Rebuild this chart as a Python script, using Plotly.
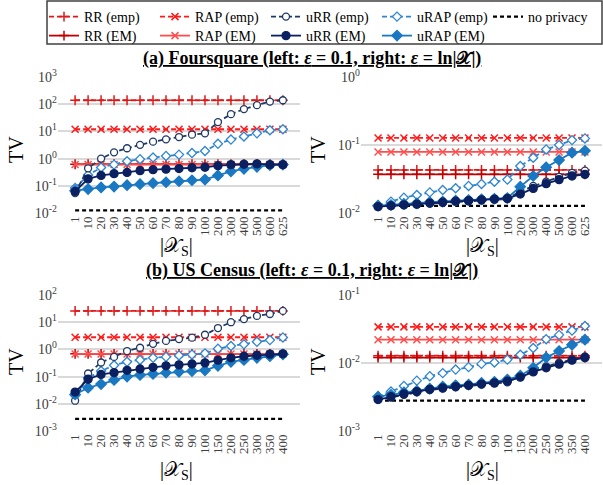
import plotly.graph_objects as go
from plotly.subplots import make_subplots

# ---------------- data ----------------
fs_cats = ["1", "10", "20", "30", "40", "50", "60", "70", "80", "90", "100",
           "200", "300", "400", "500", "600", "625"]
us_cats = ["1", "10", "20", "30", "40", "50", "60", "70", "80", "90", "100",
           "150", "200", "250", "300", "350", "400"]

series_names = ["RR (emp)", "RAP (emp)", "uRR (emp)", "uRAP (emp)", "no privacy",
                "RR (EM)", "RAP (EM)", "uRR (EM)", "uRAP (EM)"]

# (a) Foursquare, left: eps = 0.1
fsl_rr_emp = [140, 140, 140, 140, 140, 140, 140, 140, 140, 140, 140, 140, 140, 140, 140, 140, 140]
fsl_rap_emp = [12, 12, 12, 12, 12, 12, 12, 12, 12, 12, 12, 12, 12, 12, 12, 12, 12]
fsl_urr_emp = [0.054, 0.44, 1.0, 1.7, 2.4, 3.2, 4.2, 5.1, 6.2, 7.6, 8.5, 22, 43, 66, 92, 125, 140]
fsl_urap_emp = [0.083, 0.25, 0.47, 0.6, 0.8, 0.95, 1.1, 1.25, 1.4, 1.6, 1.9, 3.5, 5.0, 6.5, 8.5, 11, 12]
fsl_nopriv = [0.0125, 0.0125, 0.0125, 0.0125, 0.0125, 0.0125, 0.0125, 0.0125, 0.0125,
              0.0125, 0.0125, 0.0125, 0.0125, 0.0125, 0.0125, 0.0125, 0.0125]
fsl_rr_em = [0.62, 0.62, 0.62, 0.62, 0.62, 0.62, 0.62, 0.62, 0.62, 0.62, 0.62, 0.62, 0.62, 0.62, 0.62, 0.62, 0.62]
fsl_rap_em = [0.61, 0.61, 0.61, 0.61, 0.61, 0.61, 0.61, 0.61, 0.61, 0.61, 0.61, 0.61, 0.61, 0.61, 0.61, 0.61, 0.61]
fsl_urr_em = [0.062, 0.18, 0.24, 0.28, 0.31, 0.36, 0.39, 0.41, 0.43, 0.46, 0.48, 0.55, 0.6, 0.62, 0.64, 0.6, 0.6]
fsl_urap_em = [0.066, 0.076, 0.087, 0.094, 0.105, 0.115, 0.125, 0.135, 0.147, 0.16, 0.17, 0.24, 0.34, 0.42, 0.5, 0.58, 0.6]

# (a) Foursquare, right: eps = ln|X|
fsr_rr_emp = [0.043, 0.043, 0.043, 0.043, 0.043, 0.043, 0.043, 0.043, 0.043, 0.043, 0.043,
              0.043, 0.043, 0.043, 0.043, 0.043, 0.043]
fsr_rap_emp = [0.127, 0.127, 0.127, 0.127, 0.127, 0.127, 0.127, 0.127, 0.127, 0.127, 0.127,
               0.127, 0.127, 0.127, 0.127, 0.127, 0.127]
fsr_urr_emp = [0.0125, 0.0127, 0.013, 0.0133, 0.0138, 0.0141, 0.0146, 0.0149, 0.0153, 0.0157,
               0.016, 0.021, 0.025, 0.029, 0.034, 0.039, 0.042]
fsr_urap_emp = [0.0128, 0.0147, 0.0168, 0.0184, 0.0201, 0.0218, 0.0231, 0.025, 0.0267, 0.0288,
                0.031, 0.049, 0.065, 0.086, 0.1, 0.118, 0.125]
fsr_nopriv = [0.0127, 0.0127, 0.0127, 0.0127, 0.0127, 0.0127, 0.0127, 0.0127, 0.0127, 0.0127,
              0.0127, 0.0127, 0.0127, 0.0127, 0.0127, 0.0127, 0.0127]
fsr_rr_em = [0.037, 0.037, 0.037, 0.037, 0.037, 0.037, 0.037, 0.037, 0.037, 0.037, 0.037,
             0.037, 0.037, 0.037, 0.037, 0.037, 0.037]
fsr_rap_em = [0.079, 0.079, 0.079, 0.079, 0.079, 0.079, 0.079, 0.079, 0.079, 0.079, 0.079,
              0.079, 0.079, 0.079, 0.079, 0.079, 0.079]
fsr_urr_em = [0.0124, 0.0128, 0.0132, 0.0135, 0.014, 0.0144, 0.0149, 0.0152, 0.0156, 0.016,
              0.0164, 0.019, 0.023, 0.027, 0.031, 0.035, 0.037]
fsr_urap_em = [0.0128, 0.0131, 0.0136, 0.0139, 0.0144, 0.0147, 0.0152, 0.0155, 0.0159, 0.0162,
               0.0166, 0.0244, 0.035, 0.047, 0.06, 0.077, 0.082]

# (b) US Census, left: eps = 0.1
usl_rr_emp = [26, 26, 26, 26, 26, 26, 26, 26, 26, 26, 26, 26, 26, 26, 26, 26, 26]
usl_rap_emp = [2.8, 2.8, 2.8, 2.8, 2.8, 2.8, 2.8, 2.8, 2.8, 2.8, 2.8, 2.8, 2.8, 2.8, 2.8, 2.8, 2.8]
usl_urr_emp = [0.013, 0.13, 0.33, 0.53, 0.87, 1.15, 1.6, 2.05, 2.4, 2.7, 3.45, 6.1, 10, 13, 17, 20, 26]
usl_urap_emp = [0.02, 0.09, 0.16, 0.26, 0.35, 0.41, 0.49, 0.53, 0.6, 0.65, 0.71, 1.06, 1.33, 1.54, 1.9, 2.2, 2.75]
usl_nopriv = [0.0028, 0.0028, 0.0028, 0.0028, 0.0028, 0.0028, 0.0028, 0.0028, 0.0028, 0.0028,
              0.0028, 0.0028, 0.0028, 0.0028, 0.0028, 0.0028, 0.0028]
usl_rr_em = [0.69, 0.69, 0.69, 0.69, 0.69, 0.69, 0.69, 0.69, 0.69, 0.69, 0.69, 0.69, 0.69, 0.69, 0.69, 0.69, 0.69]
usl_rap_em = [0.68, 0.68, 0.68, 0.68, 0.68, 0.68, 0.68, 0.68, 0.68, 0.68, 0.68, 0.68, 0.68, 0.68, 0.68, 0.68, 0.68]
usl_urr_em = [0.027, 0.08, 0.12, 0.14, 0.17, 0.19, 0.22, 0.25, 0.27, 0.29, 0.32, 0.4, 0.49, 0.56, 0.61, 0.67, 0.69]
usl_urap_em = [0.022, 0.039, 0.053, 0.075, 0.1, 0.115, 0.125, 0.14, 0.15, 0.16, 0.17, 0.25, 0.35, 0.41, 0.49, 0.56, 0.66]

# (b) US Census, right: eps = ln|X|
usr_rr_emp = [0.0128, 0.0128, 0.0128, 0.0128, 0.0128, 0.0128, 0.0128, 0.0128, 0.0128, 0.0128,
              0.0128, 0.0128, 0.0128, 0.0128, 0.0128, 0.0128, 0.0128]
usr_rap_emp = [0.034, 0.034, 0.034, 0.034, 0.034, 0.034, 0.034, 0.034, 0.034, 0.034, 0.034,
               0.034, 0.034, 0.034, 0.034, 0.034, 0.034]
usr_urr_emp = [0.0029, 0.0031, 0.0034, 0.0037, 0.004, 0.0042, 0.0044, 0.0046, 0.0048, 0.005,
               0.0052, 0.0064, 0.0077, 0.0089, 0.0101, 0.0113, 0.0125]
usr_urap_emp = [0.0032, 0.0038, 0.0046, 0.0055, 0.0064, 0.0071, 0.008, 0.0087, 0.0097, 0.0102,
                0.0112, 0.0132, 0.0166, 0.0224, 0.0259, 0.03, 0.035]
usr_nopriv = [0.0028, 0.0028, 0.0028, 0.0028, 0.0028, 0.0028, 0.0028, 0.0028, 0.0028, 0.0028,
              0.0028, 0.0028, 0.0028, 0.0028, 0.0028, 0.0028, 0.0028]
usr_rr_em = [0.012, 0.012, 0.012, 0.012, 0.012, 0.012, 0.012, 0.012, 0.012, 0.012, 0.012,
             0.012, 0.012, 0.012, 0.012, 0.012, 0.012]
usr_rap_em = [0.022, 0.022, 0.022, 0.022, 0.022, 0.022, 0.022, 0.022, 0.022, 0.022, 0.022,
              0.022, 0.022, 0.022, 0.022, 0.022, 0.022]
usr_urr_em = [0.0029, 0.0032, 0.0035, 0.0038, 0.0041, 0.0043, 0.0045, 0.0047, 0.0049, 0.0051,
              0.0054, 0.0062, 0.0074, 0.0085, 0.0096, 0.011, 0.012]
usr_urap_em = [0.0032, 0.0034, 0.0037, 0.0039, 0.0042, 0.0045, 0.0047, 0.0048, 0.0051, 0.0053,
               0.0057, 0.0065, 0.0085, 0.012, 0.015, 0.0185, 0.022]

fs_left_ticks = [0.01, 0.1, 1, 10, 100, 1000]
fs_left_ticktext = ["10<sup>-2</sup>", "10<sup>-1</sup>", "10<sup>0</sup>", "10<sup>1</sup>",
                    "10<sup>2</sup>", "10<sup>3</sup>"]
fs_right_ticks = [0.01, 0.1, 1]
fs_right_ticktext = ["10<sup>-2</sup>", "10<sup>-1</sup>", "10<sup>0</sup>"]
us_left_ticks = [0.001, 0.01, 0.1, 1, 10, 100]
us_left_ticktext = ["10<sup>-3</sup>", "10<sup>-2</sup>", "10<sup>-1</sup>", "10<sup>0</sup>",
                    "10<sup>1</sup>", "10<sup>2</sup>"]
us_right_ticks = [0.001, 0.01, 0.1]
us_right_ticktext = ["10<sup>-3</sup>", "10<sup>-2</sup>", "10<sup>-1</sup>"]

# ---------------- styles ----------------
FONT = "Liberation Serif, Times New Roman, serif"
styles = [
    dict(color="#e01818", dash="5px,3px", symbol="cross-thin-open", size=7, fill=None),   # RR emp
    dict(color="#ff1a1a", dash="5px,3px", symbol="x-thin-open", size=7, fill=None),       # RAP emp
    dict(color="#1f3864", dash="5px,3px", symbol="circle", size=7, fill="white"),         # uRR emp
    dict(color="#2e86d0", dash="5px,3px", symbol="diamond", size=7, fill="white"),        # uRAP emp
    dict(color="#000000", dash="4px,3px", symbol=None, size=0, fill=None),                # no privacy
    dict(color="#c00000", dash="solid", symbol="cross-thin-open", size=7, fill=None),     # RR EM
    dict(color="#ff4d4d", dash="solid", symbol="x-thin-open", size=7, fill=None),         # RAP EM
    dict(color="#0b2060", dash="solid", symbol="circle", size=8, fill="#0b2060"),         # uRR EM
    dict(color="#1a78c2", dash="solid", symbol="diamond", size=8, fill="#1a78c2"),        # uRAP EM
]
legend_row = ["legend", "legend", "legend", "legend", "legend",
              "legend2", "legend2", "legend2", "legend2"]

panels = [
    (1, 1, fs_cats, [fsl_rr_emp, fsl_rap_emp, fsl_urr_emp, fsl_urap_emp, fsl_nopriv,
                     fsl_rr_em, fsl_rap_em, fsl_urr_em, fsl_urap_em]),
    (1, 2, fs_cats, [fsr_rr_emp, fsr_rap_emp, fsr_urr_emp, fsr_urap_emp, fsr_nopriv,
                     fsr_rr_em, fsr_rap_em, fsr_urr_em, fsr_urap_em]),
    (2, 1, us_cats, [usl_rr_emp, usl_rap_emp, usl_urr_emp, usl_urap_emp, usl_nopriv,
                     usl_rr_em, usl_rap_em, usl_urr_em, usl_urap_em]),
    (2, 2, us_cats, [usr_rr_emp, usr_rap_emp, usr_urr_emp, usr_urap_emp, usr_nopriv,
                     usr_rr_em, usr_rap_em, usr_urr_em, usr_urap_em]),
]

fig = make_subplots(rows=2, cols=2)

draw_order = [4, 0, 1, 5, 6, 3, 2, 8, 7]

for pi, (r, c, cats, ys) in enumerate(panels):
    for i in draw_order:
        st = styles[i]
        mode = "lines" if st["symbol"] is None else "lines+markers"
        marker = None
        if st["symbol"] in ("cross-thin-open", "x-thin-open"):
            marker = dict(symbol=st["symbol"], size=st["size"], color=st["color"],
                          line=dict(color=st["color"], width=1.5))
        elif st["symbol"] is not None:
            marker = dict(symbol=st["symbol"], size=st["size"], color=st["fill"],
                          line=dict(color=st["color"], width=1.3))
        fig.add_trace(go.Scatter(
            x=cats, y=ys[i], name=series_names[i], mode=mode,
            line=dict(color=st["color"], width=1.8 if i != 4 else 2.2, dash=st["dash"]),
            marker=marker, showlegend=(pi == 0), legendrank=i + 1, legend=legend_row[i],
        ), row=r, col=c)

W, H = 603, 485
def px_x(a, b):
    return [a / W, b / W]
def px_y(top, bottom):
    return [(H - bottom) / H, (H - top) / H]

fig.update_xaxes(type="category", tickangle=-90, showgrid=False, showline=False,
                 zeroline=False, ticks="", tickmode="linear", dtick=1, automargin=False,
                 tickfont=dict(family=FONT, size=13, color="#404040"))
fig.update_yaxes(type="log", showgrid=True, gridcolor="#d9d9d9", gridwidth=1.5,
                 showline=False, zeroline=False, ticks="", automargin=False,
                 tickfont=dict(family=FONT, size=14, color="#404040"))

fig.update_layout(
    xaxis=dict(domain=px_x(58, 300)),
    xaxis2=dict(domain=px_x(361, 602)),
    xaxis3=dict(domain=px_x(58, 300)),
    xaxis4=dict(domain=px_x(361, 602)),
    yaxis=dict(domain=px_y(77, 213), range=[-2, 3], tickvals=fs_left_ticks, ticktext=fs_left_ticktext),
    yaxis2=dict(domain=px_y(77, 213), range=[-2, 0], tickvals=fs_right_ticks, ticktext=fs_right_ticktext),
    yaxis3=dict(domain=px_y(295, 431), range=[-3, 2], tickvals=us_left_ticks, ticktext=us_left_ticktext),
    yaxis4=dict(domain=px_y(295, 431), range=[-3, -1], tickvals=us_right_ticks, ticktext=us_right_ticktext),
)

xt = "|𝒳<sub>S</sub>|"
ann = []
titles = [
    ("<u><b>(a) Foursquare (left: <i>ε</i> = 0.1, right: <i>ε</i> = ln|𝒳|)</b></u>", 312, 58),
    ("<u><b>(b) US Census (left: <i>ε</i> = 0.1, right: <i>ε</i> = ln|𝒳|)</b></u>", 312, 270),
]
for t, x, y in titles:
    ann.append(dict(text=t, x=x / W, y=(H - y) / H, xref="paper", yref="paper",
                    showarrow=False, xanchor="center", yanchor="middle",
                    font=dict(family=FONT, size=18, color="#000000")))
for x, y in [(176, 246), (482, 246), (176, 470), (482, 470)]:
    ann.append(dict(text=xt, x=x / W, y=(H - y) / H, xref="paper", yref="paper",
                    showarrow=False, xanchor="center", yanchor="middle",
                    font=dict(family=FONT, size=20, color="#000000")))
for x, y in [(16, 150), (318, 150), (16, 362), (318, 362)]:
    ann.append(dict(text="TV", x=x / W, y=(H - y) / H, xref="paper", yref="paper",
                    showarrow=False, xanchor="center", yanchor="middle", textangle=-90,
                    font=dict(family=FONT, size=20, color="#000000")))

legend_common = dict(orientation="h", xanchor="left", yanchor="top",
                     xref="container", yref="container",
                     borderwidth=0, bgcolor="rgba(255,255,255,0)",
                     entrywidth=66, entrywidthmode="pixels", itemwidth=30,
                     font=dict(family=FONT, size=14, color="#000000"),
                     tracegroupgap=0, traceorder="normal")

fig.update_layout(
    width=W, height=H,
    margin=dict(l=0, r=0, t=0, b=0, autoexpand=False),
    paper_bgcolor="white", plot_bgcolor="white",
    annotations=ann,
    legend=dict(x=44 / W, y=1 - 1 / H, **legend_common),
    legend2=dict(x=44 / W, y=1 - 20 / H, **legend_common),
    shapes=[dict(type="rect", xref="paper", yref="paper",
                 x0=47 / W, x1=602 / W, y0=(H - 44) / H, y1=(H - 1) / H,
                 line=dict(color="#404040", width=1.5), fillcolor="rgba(0,0,0,0)")],
    font=dict(family=FONT),
)

fig.write_html("out.html", config={"displayModeBar": False},
               post_script="document.body.style.margin='0px';")
